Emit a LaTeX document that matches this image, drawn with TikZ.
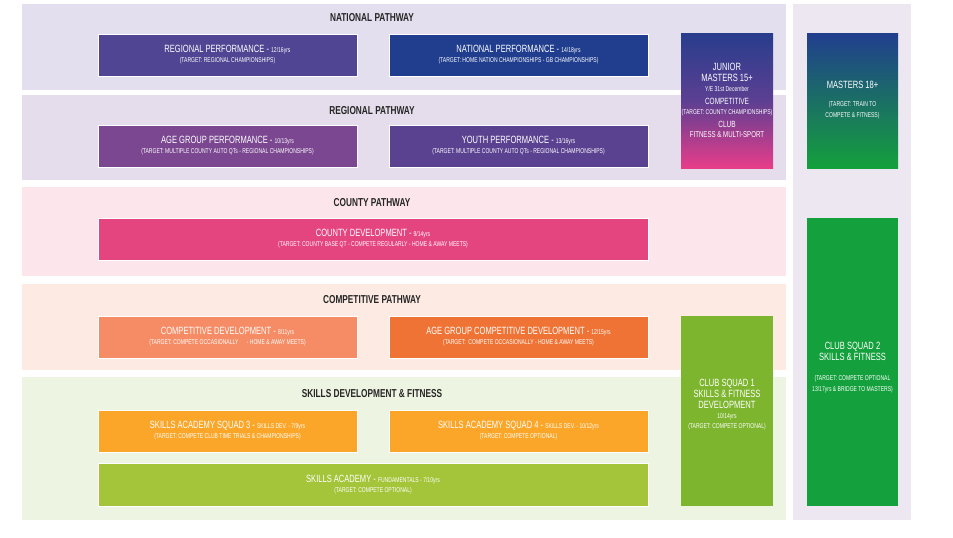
\documentclass[tikz,border=0pt]{standalone}
\usepackage{fontspec}
\setmainfont{Liberation Sans}[FakeStretch=0.72]
\definecolor{natbg}{HTML}{E3DFEE}
\definecolor{regbg}{HTML}{E6DDEC}
\definecolor{coubg}{HTML}{FCE6EC}
\definecolor{compbg}{HTML}{FDEBE3}
\definecolor{skillbg}{HTML}{EEF4E2}
\definecolor{sidebg}{HTML}{ECE7F0}
\definecolor{regperf}{HTML}{4F4592}
\definecolor{natperf}{HTML}{213E8E}
\definecolor{agperf}{HTML}{7A4790}
\definecolor{youthperf}{HTML}{5B4291}
\definecolor{coudev}{HTML}{E5457F}
\definecolor{compdev}{HTML}{F58C65}
\definecolor{agcomp}{HTML}{EF7334}
\definecolor{skillsq}{HTML}{FBA628}
\definecolor{fundam}{HTML}{A4C53A}
\definecolor{clubone}{HTML}{7DB52F}
\definecolor{clubtwo}{HTML}{14A03C}
\definecolor{jmtop}{HTML}{283D8D}
\definecolor{jmbot}{HTML}{E83D8A}
\definecolor{mpurple}{HTML}{5C3F92}
\newcommand{\sml}[1]{{\fontsize{7}{9}\selectfont #1}}
\begin{document}
\begin{tikzpicture}[x=1pt,y=-1pt,
  band/.style={fill=#1,draw=none},
  pbox/.style={fill=#1,draw=white,line width=0.8pt},
  ptext/.style={text=white,align=center,font=\fontsize{10.5}{12}\selectfont},
  btitle/.style={font=\fontsize{11.5}{13}\selectfont\bfseries,text=black!85}]
  \fill[white] (0,0) rectangle (953,538);
  % background bands
  \fill[band=natbg] (22,4) rectangle (786,90);
  \fill[band=regbg] (22,95) rectangle (786,180);
  \fill[band=coubg] (22,187) rectangle (786,276);
  \fill[band=compbg] (22,284) rectangle (786,370);
  \fill[band=skillbg] (22,377) rectangle (786,520);
  \fill[band=sidebg] (793,4) rectangle (911,520);
  % band titles
  \node[btitle] (tnat) at (372,18) {NATIONAL PATHWAY};
  \node[btitle] (treg) at (372,111) {REGIONAL PATHWAY};
  \node[btitle] (tcou) at (372,203) {COUNTY PATHWAY};
  \node[btitle] (tcomp) at (372,300) {COMPETITIVE PATHWAY};
  \node[btitle] (tskill) at (372,394) {SKILLS DEVELOPMENT \& FITNESS};
  % boxes
  \draw[pbox=regperf] (98,34) rectangle (357,76);
  \node[ptext] (regp) at (227.5,55) {REGIONAL PERFORMANCE - \sml{12/16yrs}\\[-2pt]\sml{(TARGET: REGIONAL CHAMPIONSHIPS)}};
  \draw[pbox=natperf] (389,34) rectangle (648,76);
  \node[ptext] (natp) at (518.5,55) {NATIONAL PERFORMANCE - \sml{14/18yrs}\\[-2pt]\sml{(TARGET: HOME NATION CHAMPIONSHIPS - GB CHAMPIONSHIPS)}};
  \draw[pbox=agperf] (98,125) rectangle (357,167);
  \node[ptext] (agp) at (227.5,146) {AGE GROUP PERFORMANCE - \sml{10/13yrs}\\[-2pt]\sml{(TARGET: MULTIPLE COUNTY AUTO QTs - REGIONAL CHAMPIONSHIPS)}};
  \draw[pbox=youthperf] (389,125) rectangle (648,167);
  \node[ptext] (youp) at (518.5,146) {YOUTH PERFORMANCE - \sml{13/16yrs}\\[-2pt]\sml{(TARGET: MULTIPLE COUNTY AUTO QTs - REGIONAL CHAMPIONSHIPS)}};
  \draw[pbox=coudev] (98,218) rectangle (648,260);
  \node[ptext] (coud) at (373,239) {COUNTY DEVELOPMENT - \sml{9/14yrs}\\[-2pt]\sml{(TARGET: COUNTY BASE QT - COMPETE REGULARLY - HOME \& AWAY MEETS)}};
  \draw[pbox=compdev] (98,316) rectangle (357,358);
  \node[ptext] (compd) at (227.5,337) {COMPETITIVE DEVELOPMENT - \sml{8/11yrs}\\[-2pt]\sml{(TARGET: COMPETE OCCASIONALLY \quad - HOME \& AWAY MEETS)}};
  \draw[pbox=agcomp] (389,316) rectangle (648,358);
  \node[ptext] (agcd) at (518.5,337) {AGE GROUP COMPETITIVE DEVELOPMENT - \sml{12/15yrs}\\[-2pt]\sml{(TARGET: \ COMPETE OCCASIONALLY - HOME \& AWAY MEETS)}};
  \draw[pbox=skillsq] (98,410) rectangle (357,452);
  \node[ptext] (sq3) at (227.5,431) {SKILLS ACADEMY SQUAD 3 - \sml{SKILLS DEV. - 7/9yrs}\\[-2pt]\sml{(TARGET: COMPETE CLUB TIME TRIALS \& CHAMPIONSHIPS)}};
  \draw[pbox=skillsq] (389,410) rectangle (648,452);
  \node[ptext] (sq4) at (518.5,431) {SKILLS ACADEMY SQUAD 4 - \sml{SKILLS DEV. - 10/12yrs}\\[-2pt]\sml{(TARGET: COMPETE OPTIONAL)}};
  \draw[pbox=fundam] (98,463) rectangle (648,506);
  \node[ptext] (fund) at (373,484.5) {SKILLS ACADEMY - \sml{FUNDAMENTALS - 7/10yrs}\\[-2pt]\sml{(TARGET: COMPETE OPTIONAL)}};
  % side columns
  \shade[top color=jmtop,bottom color=jmbot,middle color=mpurple] (681,33) rectangle (773,168);
  \node[ptext] (jm) at (727,100) {JUNIOR\\[-1pt]MASTERS 15+\\[-2pt]\sml{Y/E 31st December}\\[1pt]\fontsize{9}{10}\selectfont COMPETITIVE\\[-2pt]\sml{(TARGET: COUNTY CHAMPIONSHIPS)}\\[1pt]\fontsize{9}{10}\selectfont CLUB\\[-2pt]\fontsize{8.5}{10}\selectfont FITNESS \& MULTI-SPORT};
  \shade[top color=natperf,middle color=mpurple,bottom color=clubtwo] (807,33) rectangle (898,168);
  \node[ptext] (m18) at (852.5,100) {MASTERS 18+\\[6pt]\sml{(TARGET: TRAIN TO}\\[-1pt]\sml{COMPETE \& FITNESS)}};
  \fill[clubone] (681,316) rectangle (773,506);
  \node[ptext] (cs1) at (727,405) {CLUB SQUAD 1\\[-1pt]SKILLS \& FITNESS\\[-1pt]DEVELOPMENT\\[-2pt]\sml{10/14yrs}\\[-2pt]\sml{(TARGET: COMPETE OPTIONAL)}};
  \fill[clubtwo] (807,218) rectangle (898,506);
  \node[ptext] (cs2) at (852.5,368) {CLUB SQUAD 2\\[-1pt]SKILLS \& FITNESS\\[8pt]\sml{(TARGET: COMPETE OPTIONAL}\\[-1pt]\sml{13/17yrs \& BRIDGE TO MASTERS)}};
\end{tikzpicture}
\end{document}
